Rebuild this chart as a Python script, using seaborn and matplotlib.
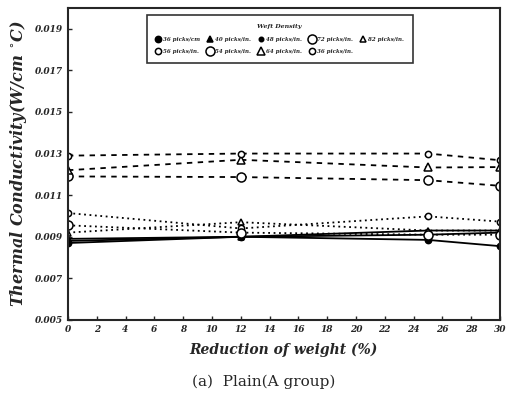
import matplotlib
matplotlib.use("Agg")
import matplotlib.pyplot as plt
import seaborn as sns
import pandas as pd

# ---- data ----
reduction = [0, 12, 25, 30]
labels = ["36 picks/cm", "40 picks/in.", "48 picks/in.", "72 picks/in.", "82 picks/in.",
          "56 picks/in.", "54 picks/in.", "64 picks/in.", "36 picks/in."]
s1 = [0.0087, 0.0090, 0.00885, 0.00855]
s2 = [0.0089, 0.0090, 0.0093, 0.0093]
s3 = [0.0088, 0.0090, 0.0091, 0.0092]
s4 = [0.0119, 0.01187, 0.01172, 0.01145]
s5 = [0.0092, 0.0097, 0.0093, 0.0093]
s6 = [0.01014, 0.0094, 0.00998, 0.00973]
s7 = [0.00955, 0.0092, 0.0091, 0.0091]
s8 = [0.0122, 0.0127, 0.01233, 0.01235]
s9 = [0.0129, 0.0130, 0.0130, 0.01268]
series = [s1, s2, s3, s4, s5, s6, s7, s8, s9]
x_ticks = [0, 2, 4, 6, 8, 10, 12, 14, 16, 18, 20, 22, 24, 26, 28, 30]
y_ticks = [0.005, 0.007, 0.009, 0.011, 0.013, 0.015, 0.017, 0.019]

styles = [
    dict(marker="o", ms=4.5, mfc="black", ls="-"),
    dict(marker="^", ms=4.5, mfc="black", ls="-"),
    dict(marker="o", ms=3.2, mfc="black", ls="-"),
    dict(marker="o", ms=6.5, mfc="white", ls=(0, (3, 3))),
    dict(marker="^", ms=4.5, mfc="white", ls=(0, (1, 2))),
    dict(marker="o", ms=4.5, mfc="white", ls=(0, (1, 2))),
    dict(marker="o", ms=6.5, mfc="white", ls=(0, (1, 2))),
    dict(marker="^", ms=5.5, mfc="white", ls=(0, (3, 3))),
    dict(marker="o", ms=4.5, mfc="white", ls=(0, (3, 3))),
]

rows = []
for lab, vals in zip(labels, series):
    for xv, yv in zip(reduction, vals):
        rows.append(dict(series=lab, x=xv, y=yv))
df = pd.DataFrame(rows)

sns.set_style("ticks")
plt.rcParams["font.family"] = ["DejaVu Serif"]

fig = plt.figure(figsize=(5.07, 3.97), dpi=100)
ax = fig.add_axes([0.134, 0.194, 0.852, 0.786])

for lab, st in zip(labels, styles):
    sub = df[df.series == lab]
    sns.lineplot(data=sub, x="x", y="y", ax=ax, color="black", lw=1.3,
                 marker=st["marker"], markersize=st["ms"], markerfacecolor=st["mfc"],
                 markeredgecolor="black", markeredgewidth=1.1, linestyle=st["ls"],
                 label=lab, legend=False)

ax.set_xlim(0, 30)
ax.set_ylim(0.005, 0.020)
ax.set_xticks(x_ticks)
ax.set_xticklabels([str(v) for v in x_ticks], fontsize=6.5, fontweight="bold", style="italic")
ax.set_yticks(y_ticks)
ax.set_yticklabels([f"{v:.3f}" for v in y_ticks], fontsize=6.5, fontweight="bold", style="italic")
ax.tick_params(direction="in", length=3, width=1)
for sp in ax.spines.values():
    sp.set_linewidth(1.5)
    sp.set_visible(True)

ax.set_xlabel("Reduction of weight (%)", fontsize=10, fontweight="bold", style="italic", labelpad=6)
ax.set_ylabel("Thermal Conductivity(W/cm $^{\\circ}$C)", fontsize=11.5, fontweight="bold",
              style="italic", labelpad=4)

handles, labs = ax.get_legend_handles_labels()
order = [0, 5, 1, 6, 2, 7, 3, 8, 4]
leg = ax.legend([handles[i] for i in order], [labs[i] for i in order], ncol=5,
                title="Weft Density", loc="upper center",
                bbox_to_anchor=(0.49, 0.985), fontsize=4, title_fontsize=4.5,
                frameon=True, fancybox=False, edgecolor="black", handlelength=1.0,
                columnspacing=1.3, handletextpad=0.4, borderpad=1.6, labelspacing=1.3)
leg.get_frame().set_linewidth(1.2)
for line in leg.get_lines():
    line.set_linestyle("None")
leg.get_title().set_fontweight("bold")
leg.get_title().set_style("italic")
for t in leg.get_texts():
    t.set_fontweight("bold")
    t.set_style("italic")

fig.text(0.52, 0.02, "(a)  Plain(A group)", fontsize=11, ha="center", va="bottom")

fig.savefig("out.png", dpi=100)
